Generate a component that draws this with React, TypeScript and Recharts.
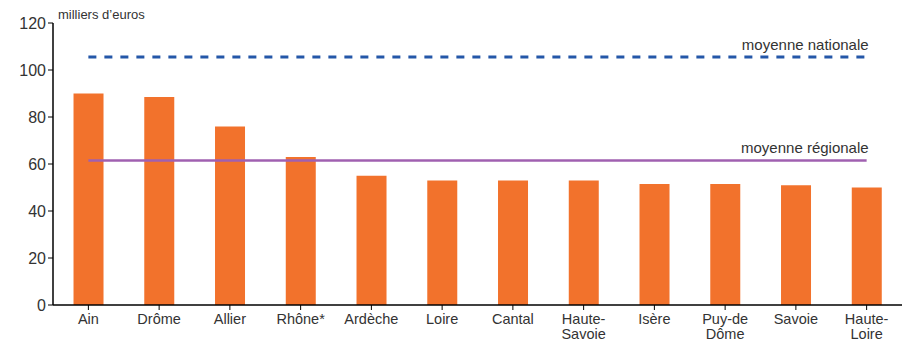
import React from 'react';
import { ComposedChart, Bar, Line, XAxis, YAxis, LabelList } from 'recharts';

const categories = ['Ain', 'Drôme', 'Allier', 'Rhône*', 'Ardèche', 'Loire', 'Cantal', 'Haute-\nSavoie', 'Isère', 'Puy-de\nDôme', 'Savoie', 'Haute-\nLoire'];
const values = [90, 88.5, 76, 63, 55, 53, 53, 53, 51.5, 51.5, 51, 50];
const nationalAverage = 105.5;
const regionalAverage = 61.5;
const yTicks = [0, 20, 40, 60, 80, 100, 120];

const data = categories.map((c, i) => ({ name: c, value: values[i], nat: nationalAverage, reg: regionalAverage }));

const FONT = '"Liberation Sans Narrow", "Liberation Sans", Arial, sans-serif';
const TEXT = '#333333';

const XTick = (props: any) => {
  const { x, y, payload } = props;
  const lines = String(payload.value).split('\n');
  return (
    <g>
      {lines.map((l, i) => (
        <text key={i} x={x} y={y + 12 + i * 15} textAnchor="middle" fill={TEXT} fontSize={14.5} fontFamily={FONT}>{l}</text>
      ))}
    </g>
  );
};

const makeEndLabel = (text: string) => (props: any) => {
  const { x, y, index } = props;
  if (index !== categories.length - 1) return null;
  return <text x={x + 2} y={y - 7} textAnchor="end" fill={TEXT} fontSize={15} fontFamily={FONT}>{text}</text>;
};

export default function App() {
  return (
    <div style={{ position: 'absolute', left: 0, top: 0, width: 908, height: 343, background: '#fff' }}>
      <ComposedChart width={908} height={343} data={data} margin={{ top: 23, right: 6, bottom: 0, left: 0 }} barCategoryGap="29%">
        <XAxis dataKey="name" interval={0} tick={<XTick />} tickLine={{ stroke: '#000' }} tickSize={5} axisLine={{ stroke: '#000', strokeWidth: 1.5 }} height={38} />
        <YAxis domain={[0, 120]} ticks={yTicks} width={53} tick={{ fill: TEXT, fontSize: 16, fontFamily: FONT }} tickLine={{ stroke: '#000' }} tickSize={5} axisLine={{ stroke: '#000', strokeWidth: 1.5 }} />
        <Bar dataKey="value" fill="#F2722C" isAnimationActive={false} />
        <Line dataKey="reg" stroke="#A060B0" strokeWidth={2.5} dot={false} isAnimationActive={false}>
          <LabelList dataKey="reg" content={makeEndLabel('moyenne régionale')} />
        </Line>
        <Line dataKey="nat" stroke="#2457A8" strokeWidth={3} strokeDasharray="8 8" dot={false} isAnimationActive={false}>
          <LabelList dataKey="nat" content={makeEndLabel('moyenne nationale')} />
        </Line>
        <text x={58} y={19} fill={TEXT} fontSize={13} fontFamily={FONT}>milliers d’euros</text>
      </ComposedChart>
    </div>
  );
}
